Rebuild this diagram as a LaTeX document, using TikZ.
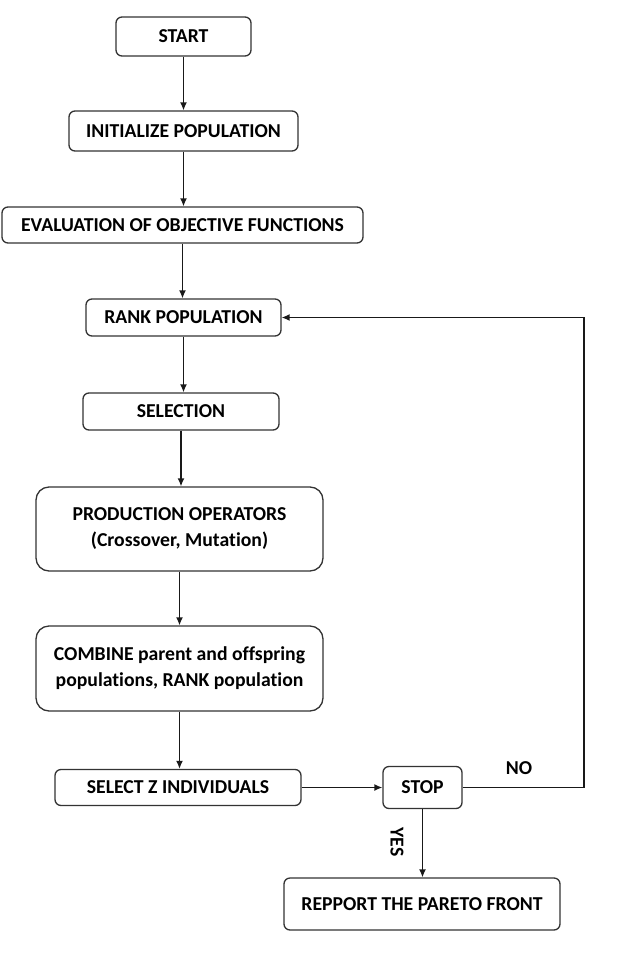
\documentclass[tikz,border=0pt]{standalone}
\usepackage{fontspec}
\setmainfont{Carlito}[Ligatures={NoCommon}]
\usetikzlibrary{arrows.meta}
\begin{document}
\begin{tikzpicture}[x=1pt,y=-1pt,
  box/.style={draw=black!80, line width=1.3pt, rounded corners=6pt, inner sep=0pt,
              font=\fontsize{19.7}{26}\selectfont\bfseries, align=center, fill=white},
  bigbox/.style={box, rounded corners=13pt},
  lbl/.style={font=\fontsize{19.7}{23}\selectfont\bfseries, inner sep=0pt},
  arr/.style={-{Latex[length=8pt,width=7pt]}, line width=1.4pt, draw=black!90}]
\useasboundingbox[fill=white] (0,0) rectangle (616,955);
\node[box, minimum width=135pt, minimum height=39pt] (start) at (183.5,36.5) {START};
\node[box, minimum width=229pt, minimum height=40pt] (init) at (183.5,131) {INITIALIZE POPULATION};
\node[box, minimum width=361pt, minimum height=36pt] (eval) at (182.5,225) {EVALUATION OF OBJECTIVE FUNCTIONS};
\node[box, minimum width=195pt, minimum height=37pt] (rank) at (183.5,317.5) {RANK POPULATION};
\node[box, minimum width=196pt, minimum height=37pt] (sel) at (181,411.5) {SELECTION};
\node[bigbox, minimum width=287pt, minimum height=84pt] (prod) at (179.5,529) {PRODUCTION OPERATORS\\(Crossover, Mutation)};
\node[bigbox, minimum width=287pt, minimum height=85pt] (comb) at (179.5,668.5) {COMBINE parent and offspring\\populations, RANK population};
\node[box, minimum width=246pt, minimum height=36pt] (selz) at (178,787.5) {SELECT Z INDIVIDUALS};
\node[box, minimum width=79pt, minimum height=42pt] (stop) at (422.5,787.5) {STOP};
\node[box, minimum width=276pt, minimum height=52pt] (rep) at (422,904) {REPPORT THE PARETO FRONT};
\coordinate (loopc) at (584,787.5);
\node[lbl] (no) at (519,768) {NO};
\node[lbl, rotate=-90] (yes) at (397,842) {YES};
\draw[arr] (start) -- (start |- init.north);
\draw[arr] (init) -- (init |- eval.north);
\draw[arr] (eval) -- (eval |- rank.north);
\draw[arr] (rank) -- (rank |- sel.north);
\draw[arr] (sel) -- (sel |- prod.north);
\draw[arr] (prod) -- (prod |- comb.north);
\draw[arr] (comb) -- (comb |- selz.north);
\draw[arr] (selz) -- (stop);
\draw[arr] (stop) -- (stop |- rep.north);
\draw[arr] (stop.east) -- (loopc) |- (rank.east);
\end{tikzpicture}
\end{document}
